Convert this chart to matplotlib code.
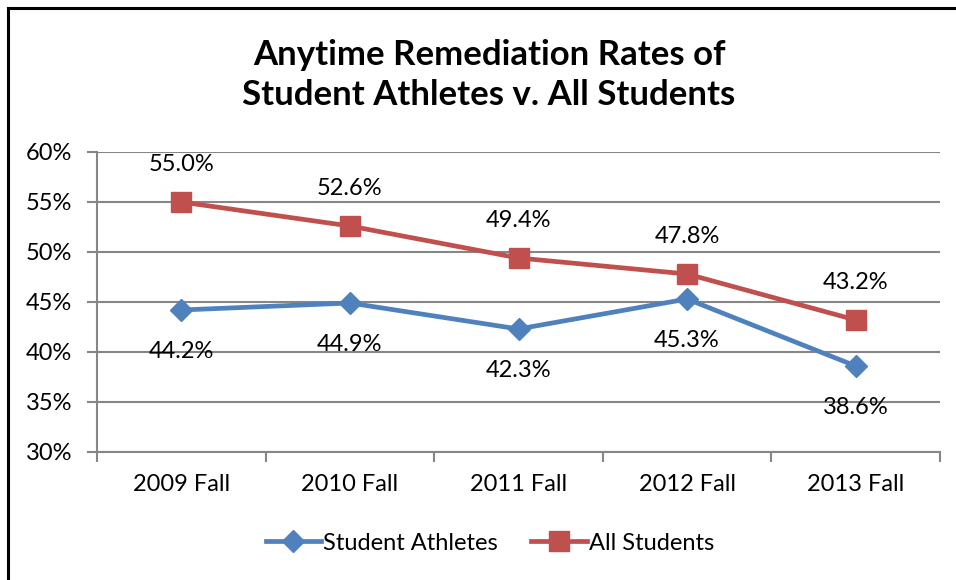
import matplotlib
matplotlib.use("Agg")
import matplotlib.pyplot as plt
from matplotlib.lines import Line2D
from matplotlib.ticker import FuncFormatter, FixedLocator

categories = ["2009 Fall", "2010 Fall", "2011 Fall", "2012 Fall", "2013 Fall"]
athletes = [44.2, 44.9, 42.3, 45.3, 38.6]
all_students = [55.0, 52.6, 49.4, 47.8, 43.2]
series_names = ["Student Athletes", "All Students"]
title = "Anytime Remediation Rates of\nStudent Athletes v. All Students"

plt.rcParams['font.family'] = ['Lato', 'DejaVu Sans']

BLUE = "#4F81BD"
RED = "#C0504D"
GRID = "#868686"
FS = 17

fig = plt.figure(figsize=(9.56, 5.8), dpi=100)
ax = fig.add_axes([97/956, 1-452/580, (940-97)/956, 300/580])

x = list(range(len(categories)))
ax.plot(x, athletes, color=BLUE, lw=3.4, marker='D', ms=11, mec=BLUE, mfc=BLUE,
        label=series_names[0], zorder=3)
ax.plot(x, all_students, color=RED, lw=3.4, marker='s', ms=14, mec=RED, mfc=RED,
        label=series_names[1], zorder=3)

for xi, v in zip(x, all_students):
    ax.annotate(f"{v:.1f}%", (xi, v), xytext=(0, 27), textcoords='offset points',
                ha='center', va='center', fontsize=FS, color='#000000')
for xi, v in zip(x, athletes):
    ax.annotate(f"{v:.1f}%", (xi, v), xytext=(0, -30), textcoords='offset points',
                ha='center', va='center', fontsize=FS, color='#000000')

ax.set_xlim(-0.5, len(categories) - 0.5)
ax.set_ylim(30, 60)
ax.set_yticks([30, 35, 40, 45, 50, 55, 60])
ax.yaxis.set_major_formatter(FuncFormatter(lambda v, p: f"{v:.0f}%"))
ax.set_xticks(x)
ax.set_xticklabels(categories)
ax.xaxis.set_minor_locator(FixedLocator([i - 0.5 for i in range(len(categories) + 1)]))
ax.tick_params(axis='x', which='major', length=0, labelsize=FS, pad=16)
ax.tick_params(axis='x', which='minor', length=7, width=1.5, color=GRID, direction='out')
ax.tick_params(axis='y', which='major', length=7, width=1.5, color=GRID, labelsize=FS, pad=11)

ax.grid(axis='y', color=GRID, lw=1.5, zorder=0)
for s in ['top', 'right']:
    ax.spines[s].set_visible(False)
for s in ['left', 'bottom']:
    ax.spines[s].set_color(GRID)
    ax.spines[s].set_linewidth(1.5)

fig.text(489/956, 1-75/580, title, ha='center', va='center', fontsize=25,
         fontweight='bold', linespacing=1.3)

handles, labels = ax.get_legend_handles_labels()
fig.legend(handles, labels, loc='center', bbox_to_anchor=(490/956, 1-543/580), ncol=2,
           frameon=False, fontsize=FS, handlelength=2.35, handletextpad=0.1,
           columnspacing=1.4)

fig.add_artist(Line2D([8/956, 1], [1-8/580, 1-8/580], color='black', lw=2.2,
                      transform=fig.transFigure))
fig.add_artist(Line2D([8/956, 8/956], [0, 1-8/580], color='black', lw=2.2,
                      transform=fig.transFigure))

fig.savefig("out.png", dpi=100)
